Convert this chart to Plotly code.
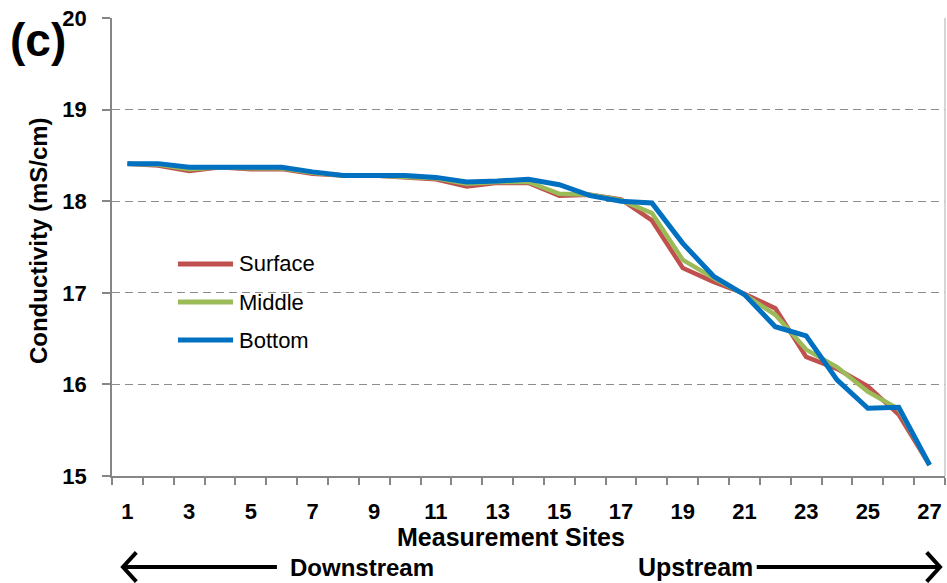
import plotly.graph_objects as go

sites = list(range(1, 28))
surface = [18.41, 18.39, 18.33, 18.37, 18.35, 18.35, 18.30, 18.28, 18.28, 18.26, 18.24, 18.16, 18.20, 18.20,
           18.06, 18.07, 18.02, 17.79, 17.27, 17.12, 16.99, 16.83, 16.30, 16.17, 15.98, 15.67, 15.12]
middle = [18.41, 18.40, 18.35, 18.37, 18.36, 18.36, 18.31, 18.28, 18.28, 18.27, 18.25, 18.19, 18.21, 18.21,
          18.08, 18.07, 18.01, 17.87, 17.36, 17.16, 16.98, 16.76, 16.38, 16.19, 15.92, 15.73, 15.12]
bottom = [18.41, 18.41, 18.37, 18.37, 18.37, 18.37, 18.32, 18.28, 18.28, 18.28, 18.26, 18.21, 18.22, 18.24,
          18.18, 18.06, 18.00, 17.98, 17.54, 17.18, 16.98, 16.63, 16.53, 16.05, 15.74, 15.75, 15.12]
series_names = ["Surface", "Middle", "Bottom"]
series_colors = ["#C0504D", "#9BBB59", "#0070C0"]
x_tick_vals = list(range(1, 28, 2))
y_tick_vals = [15, 16, 17, 18, 19, 20]

FONT = "'Liberation Sans', Arial, sans-serif"
AX = "#868686"

fig = go.Figure()
for name, vals, col, w in zip(series_names, [surface, middle, bottom], series_colors, [4.5, 4.5, 5]):
    fig.add_trace(go.Scatter(x=sites, y=vals, mode="lines", name=name,
                             line=dict(color=col, width=w), showlegend=False))

fig.update_layout(
    width=947, height=583,
    margin=dict(l=112, r=2, t=18, b=107),
    paper_bgcolor="white", plot_bgcolor="white",
    font=dict(family=FONT, color="black"),
    xaxis=dict(range=[0.5, 27.5], tickmode="array", tickvals=x_tick_vals,
               ticktext=[str(v) for v in x_tick_vals], ticks="", showgrid=False,
               showline=True, linecolor=AX, linewidth=1.5, zeroline=False,
               tickfont=dict(size=22, family=FONT, weight="bold"), ticklabelstandoff=15,
               minor=dict(tickmode="array", tickvals=[i + 0.5 for i in range(0, 28)],
                          ticks="outside", ticklen=7, tickcolor=AX, tickwidth=1.5, showgrid=False)),
    yaxis=dict(range=[15, 20], tickmode="array", tickvals=y_tick_vals,
               ticks="outside", ticklen=8, tickcolor=AX, tickwidth=1.5,
               showgrid=True, gridcolor="#8c8c8c", gridwidth=1.2, griddash="8px,5px",
               showline=True, linecolor=AX, linewidth=1.5, zeroline=False,
               tickfont=dict(size=22, family=FONT, weight="bold"), ticklabelstandoff=11),
)

# right border of chart
fig.add_shape(type="line", xref="paper", yref="paper", x0=1, x1=1, y0=0, y1=1,
              line=dict(color="#c8c8c8", width=1.5))

# legend (drawn manually for long line samples)
leg_y = [0.4629, 0.3799, 0.2969]
for name, col, yy in zip(series_names, series_colors, leg_y):
    fig.add_shape(type="line", xref="paper", yref="paper", x0=0.0792, x1=0.1453, y0=yy, y1=yy,
                  line=dict(color=col, width=5))
    fig.add_annotation(text=name, xref="paper", yref="paper", x=0.1495, y=yy, xanchor="left",
                       yanchor="middle", showarrow=False, font=dict(size=22, family=FONT))

# axis titles
fig.add_annotation(text="Measurement Sites", xref="paper", yref="paper", x=0.479, y=-0.133,
                   showarrow=False, font=dict(size=25, family=FONT, weight="bold"), yanchor="middle")
fig.add_annotation(text="Conductivity (mS/cm)", xref="paper", yref="paper", x=-0.0888, y=0.513,
                   textangle=-90, showarrow=False, font=dict(size=24, family=FONT, weight="bold"),
                   xanchor="center", yanchor="middle")
fig.add_annotation(text="(c)", xref="paper", yref="paper", x=-0.125, y=1.014, xanchor="left",
                   yanchor="top", showarrow=False, font=dict(size=46, family=FONT, weight="bold"))

# direction labels and arrows
fig.add_annotation(text="Downstream", xref="paper", yref="paper", x=0.2113, y=-0.1987,
                   xanchor="left", yanchor="middle", showarrow=False,
                   font=dict(size=24, family=FONT, weight="bold"))
fig.add_annotation(text="Upstream", xref="paper", yref="paper", x=0.772, y=-0.1987,
                   xanchor="right", yanchor="middle", showarrow=False,
                   font=dict(size=25, family=FONT, weight="bold"))

ya = -0.1987
def arrow(xt, xh):
    fig.add_shape(type="line", xref="paper", yref="paper", x0=xt, x1=xh, y0=ya, y1=ya,
                  line=dict(color="black", width=4))
    d = 0.016 if xh > xt else -0.016
    fig.add_shape(type="path", xref="paper", yref="paper",
                  path=f"M {xh - d},{ya + 0.032} L {xh},{ya} L {xh - d},{ya - 0.032}",
                  line=dict(color="black", width=4))

arrow(0.198, 0.0132)
arrow(0.774, 0.994)

fig.write_html("out.html", config={"displayModeBar": False},
               post_script="document.body.style.margin='0';document.body.style.overflow='hidden';")
